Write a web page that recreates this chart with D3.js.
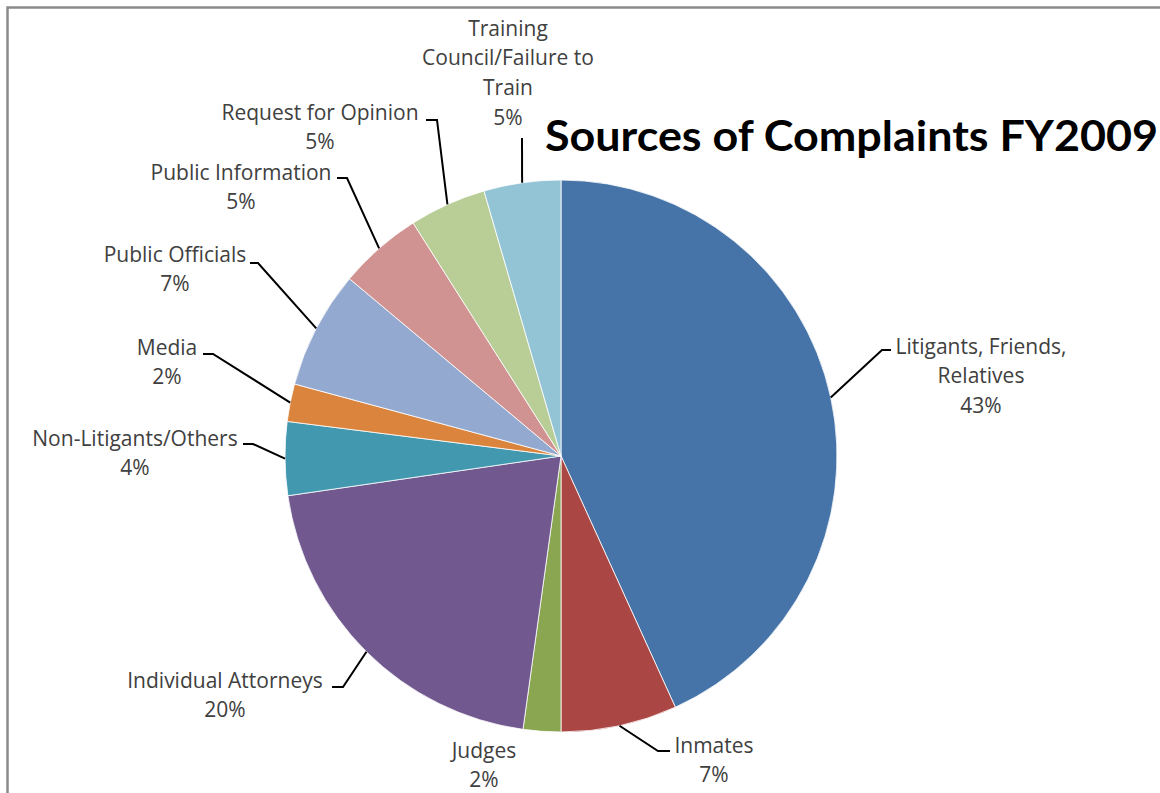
<!DOCTYPE html>
<html>
<head>
<meta charset="utf-8">
<script src="https://cdn.jsdelivr.net/npm/d3@7"></script>
<style>
  html, body { margin: 0; padding: 0; background: #fff; }
  svg { display: block; }
</style>
</head>
<body>
<svg id="chart" width="1160" height="793"></svg>
<script>
// ---- Data ----
const categories = [
  "Litigants, Friends, Relatives", "Inmates", "Judges", "Individual Attorneys",
  "Non-Litigants/Others", "Media", "Public Officials", "Public Information",
  "Request for Opinion", "Training Council/Failure to Train"
];
const labelLines = [
  ["Litigants, Friends,", "Relatives"], ["Inmates"], ["Judges"], ["Individual Attorneys"],
  ["Non-Litigants/Others"], ["Media"], ["Public Officials"], ["Public Information"],
  ["Request for Opinion"], ["Training", "Council/Failure to", "Train"]
];
const values = [43.2, 6.8, 2.2, 20.5, 4.3, 2.2, 6.9, 4.9, 4.5, 4.5];
const percentLabels = ["43%", "7%", "2%", "20%", "4%", "2%", "7%", "5%", "5%", "5%"];
const colors = ["#4674A8", "#AA4744", "#8AA650", "#71588F", "#4198AF",
                "#DB843D", "#93A9CF", "#D19392", "#B9CD97", "#93C4D6"];
const title = "Sources of Complaints FY2009";

// ---- Label layout (annotation placement) ----
const labelLayout = [
  { cx: 981, cy: 346, elbow: [882, 350], end: [891, 350] },
  { cx: 714, cy: 745, elbow: [658, 751], end: [670, 751] },
  { cx: 484, cy: 750, elbow: null, end: null },
  { cx: 225, cy: 680, elbow: [343, 687], end: [332, 687] },
  { cx: 135, cy: 438, elbow: [253, 444], end: [243, 444] },
  { cx: 167, cy: 347, elbow: [213, 354], end: [203, 354] },
  { cx: 175, cy: 254, elbow: [258, 263], end: [250, 263] },
  { cx: 241, cy: 172, elbow: [347, 178], end: [337, 178] },
  { cx: 320, cy: 112, elbow: [437, 120], end: [426, 120] },
  { cx: 508, cy: 28,  elbow: [522, 138], end: null }
];

const W = 1160, H = 793;
const cx0 = 561, cy0 = 456, R = 276;
const lineH = 29.7;

const svg = d3.select("#chart");

// frame
svg.append("path")
  .attr("d", `M7.5,${H} L7.5,7.5 L${W},7.5`)
  .attr("fill", "none").attr("stroke", "#8a8a8a").attr("stroke-width", 2.5);

const g = svg.append("g").attr("transform", `translate(${cx0},${cy0})`);

const pie = d3.pie().sort(null).value(d => d)(values);
const arc = d3.arc().innerRadius(0).outerRadius(R);

g.selectAll("path.slice").data(pie).join("path")
  .attr("class", "slice")
  .attr("d", arc)
  .attr("fill", (d, i) => colors[i])
  .attr("stroke", "#ffffff").attr("stroke-width", 0.8);

// leader lines
pie.forEach((d, i) => {
  const L = labelLayout[i];
  if (!L.elbow) return;
  const a = (d.startAngle + d.endAngle) / 2;
  const sx = cx0 + R * Math.sin(a), sy = cy0 - R * Math.cos(a);
  const pts = [[sx, sy], L.elbow];
  if (L.end) pts.push(L.end);
  svg.append("path")
    .attr("d", d3.line()(pts))
    .attr("fill", "none").attr("stroke", "#000").attr("stroke-width", 2);
});

// labels
labelLines.forEach((lines, i) => {
  const L = labelLayout[i];
  const all = lines.concat([percentLabels[i]]);
  const t = svg.append("text")
    .attr("font-family", "'Open Sans', Lato, sans-serif")
    .attr("font-size", 21)
    .attr("fill", "#404040")
    .attr("text-anchor", "middle");
  all.forEach((s, k) => {
    t.append("tspan").attr("x", L.cx).attr("y", L.cy + k * lineH)
      .attr("dy", "0.36em").text(s);
  });
});

// title
svg.append("text")
  .attr("x", 545).attr("y", 151)
  .attr("font-family", "Lato, 'Open Sans', sans-serif")
  .attr("font-weight", "bold")
  .attr("font-size", 42)
  .attr("fill", "#000")
  .attr("textLength", 613)
  .attr("lengthAdjust", "spacingAndGlyphs")
  .text(title);
</script>
</body>
</html>
